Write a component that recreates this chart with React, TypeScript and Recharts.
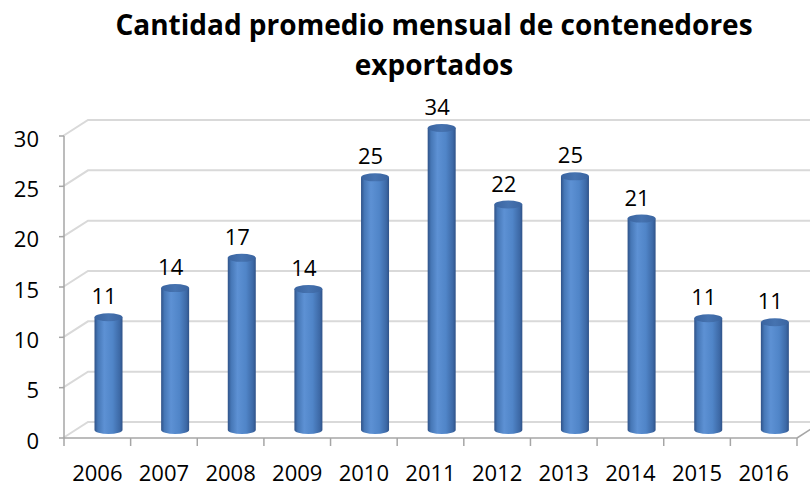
import { Bar, BarChart, CartesianGrid, LabelList, XAxis, YAxis } from "recharts";

const years = ["2006", "2007", "2008", "2009", "2010", "2011", "2012", "2013", "2014", "2015", "2016"];
const containers = [11.2, 14.1, 17.1, 14.0, 25.1, 34.2, 22.4, 25.2, 21.0, 11.1, 10.7];
const yTicks = [0, 5, 10, 15, 20, 25, 30];
const axisMax = 30;
const titleLines = ["Cantidad promedio mensual de contenedores", "exportados"];

const rows = years.map((year, i) => ({
	year,
	value: containers[i],
	shown: Math.min(containers[i], axisMax),
}));

const FONT = "'Open Sans', 'DejaVu Sans', sans-serif";
const DEPTH_X = 25;
const DEPTH_Y = -16;
const GRID = "#d9d9d9";
const AXIS = "#a6a6a6";

function Cylinder(props: any) {
	const { x, y, width, height } = props;
	if (height == null || width == null) return null;
	const rx = width / 2;
	const ry = 4;
	const cx = x + rx + DEPTH_X / 2 - 1;
	const top = y + DEPTH_Y / 2;
	const bottom = y + height + DEPTH_Y / 2;
	return (
		<g>
			<path
				d={`M${cx - rx},${top} L${cx - rx},${bottom} A${rx},${ry} 0 0 0 ${cx + rx},${bottom} L${cx + rx},${top} Z`}
				fill="url(#cylBody)"
			/>
			<ellipse cx={cx} cy={top} rx={rx} ry={ry} fill="url(#cylTop)" />
		</g>
	);
}

function renderLabel(props: any) {
	const { x, y, width, value } = props;
	return (
		<text
			x={x + width / 2 + 7}
			y={y + DEPTH_Y / 2 - 13}
			textAnchor="middle"
			fontSize={22}
			fontFamily={FONT}
			fill="#000"
		>
			{Math.round(value)}
		</text>
	);
}

function BackGridLine(props: any) {
	const { x1, y1, x2 } = props;
	return (
		<path
			key={`g-${y1}`}
			d={`M${x1 - 1},${y1} L${x1 - 1 + DEPTH_X},${y1 + DEPTH_Y} L${x2 + 40},${y1 + DEPTH_Y}`}
			stroke={GRID}
			strokeWidth={2}
			fill="none"
		/>
	);
}

function YearTick(props: any) {
	const { x, y, payload, index, visibleTicksCount } = props;
	const half = payload?.offset ?? 33.25;
	const last = index === visibleTicksCount - 1;
	return (
		<g>
			<line x1={x - half} y1={y} x2={x - half} y2={y + 8} stroke={AXIS} strokeWidth={1.5} />
			{last ? (
				<>
					<line x1={x + half} y1={y} x2={x + half} y2={y + 8} stroke={AXIS} strokeWidth={1.5} />
					<line
						x1={x + half}
						y1={y}
						x2={x + half + DEPTH_X}
						y2={y + DEPTH_Y}
						stroke={AXIS}
						strokeWidth={1.5}
					/>
				</>
			) : null}
			<text x={x} y={y + 43} textAnchor="middle" fontSize={22} fontFamily={FONT} fill="#000">
				{payload.value}
			</text>
		</g>
	);
}

export default function App() {
	return (
		<div style={{ position: "relative", width: 810, height: 488, background: "#fff" }}>
			<style>{"body{margin:0}"}</style>
			<BarChart width={810} height={488} data={rows} margin={{ top: 136, right: 13, bottom: 0, left: 0 }}>
				<defs>
					<linearGradient id="cylBody" x1="0" y1="0" x2="1" y2="0">
						<stop offset="0%" stopColor="#2f5288" />
						<stop offset="12%" stopColor="#4677b6" />
						<stop offset="35%" stopColor="#5d91d4" />
						<stop offset="65%" stopColor="#5085c8" />
						<stop offset="90%" stopColor="#3d69a6" />
						<stop offset="100%" stopColor="#2f5288" />
					</linearGradient>
					<linearGradient id="cylTop" x1="0" y1="0" x2="1" y2="0">
						<stop offset="0%" stopColor="#3a64a0" />
						<stop offset="50%" stopColor="#4673b0" />
						<stop offset="100%" stopColor="#3a64a0" />
					</linearGradient>
				</defs>
				<CartesianGrid vertical={false} horizontal={(p: any) => <BackGridLine {...p} />} />
				<XAxis
					dataKey="year"
					height={50}
					interval={0}
					tickSize={0}
					tickMargin={0}
					tickLine={false}
					axisLine={{ stroke: AXIS, strokeWidth: 1.5 }}
					tick={(p: any) => <YearTick {...p} />}
				/>
				<YAxis
					width={64}
					domain={[0, axisMax]}
					ticks={yTicks}
					interval={0}
					tickSize={5}
					tickMargin={20}
					axisLine={{ stroke: AXIS, strokeWidth: 1.5 }}
					tickLine={{ stroke: AXIS, strokeWidth: 1.5 }}
					tick={{ fontSize: 22, fontFamily: FONT, fill: "#000", dy: 3 }}
				/>
				<Bar dataKey="shown" barSize={28} shape={Cylinder} isAnimationActive={false}>
					<LabelList dataKey="value" content={renderLabel} />
				</Bar>
			</BarChart>
			<svg width={810} height={100} style={{ position: "absolute", left: 0, top: 0, pointerEvents: "none" }}>
				{titleLines.map((line, i) => (
					<text
						key={line}
						x={434}
						y={35 + i * 40}
						textAnchor="middle"
						fontSize={28}
						fontWeight="bold"
						fontFamily={FONT}
						fill="#000"
					>
						{line}
					</text>
				))}
			</svg>
		</div>
	);
}
